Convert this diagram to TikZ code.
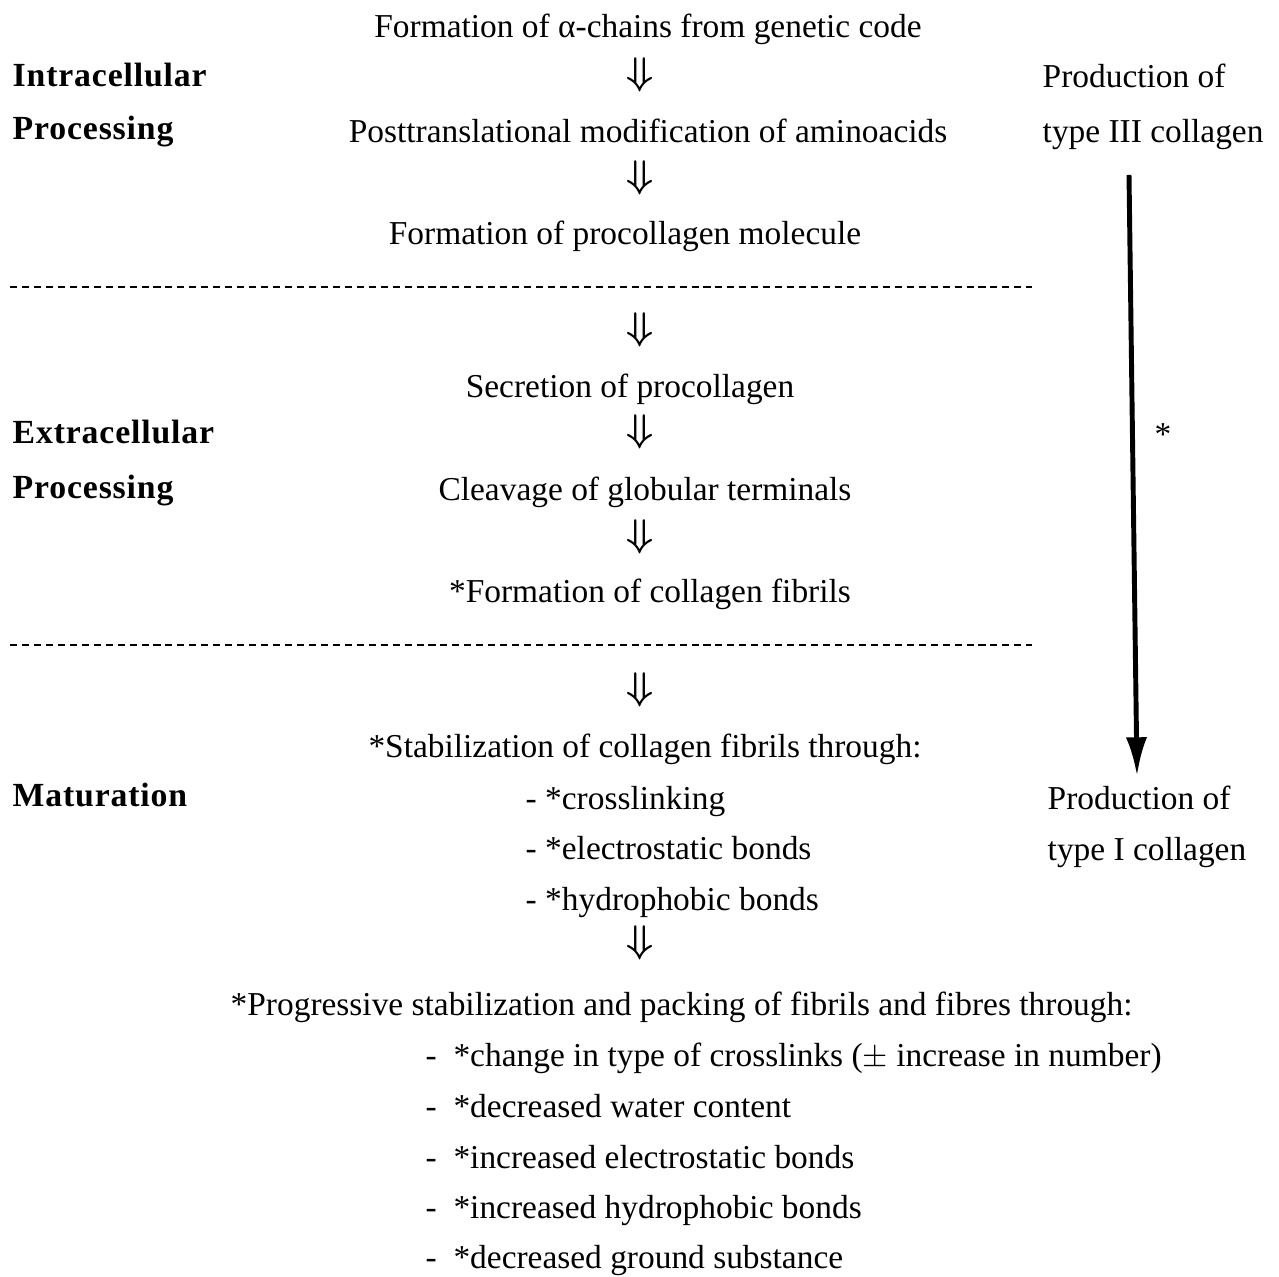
\documentclass[tikz,border=0pt]{standalone}
\usepackage{fontspec}
\usetikzlibrary{arrows.meta}
\setmainfont{Liberation Serif}
\newfontfamily\headfont[LetterSpace=2.5]{Liberation Serif}
\tikzset{
  txt/.style={anchor=base, inner sep=0pt, font=\fontsize{9.5}{11}\selectfont},
  head/.style={anchor=base west, inner sep=0pt, font=\fontsize{9.6}{11}\selectfont\headfont\bfseries},
  darr/.style={inner sep=0pt, font=\fontsize{11}{12}\selectfont\boldmath},
  sepline/.style={line width=0.5pt, dash pattern=on 2pt off 1.4pt}
}
\begin{document}
\begin{tikzpicture}[x=0.01cm, y=-0.01cm]
                    \useasboundingbox (0,0) rectangle (1279,1277);
                    % Intracellular steps
                    \node[txt] (alpha) at (648,38) {Formation of α-chains from genetic code};
                    \node[darr] (d1) at (640,75) {$\Downarrow$};
                    \node[txt] (post) at (648,143) {Posttranslational modification of aminoacids};
                    \node[darr] (d2) at (640,178) {$\Downarrow$};
                    \node[txt] (proc) at (625,245) {Formation of procollagen molecule};
                    \draw[sepline] (10,287) -- (1032,287);
                    % Extracellular steps
                    \node[darr] (d3) at (640,330) {$\Downarrow$};
                    \node[txt] (secr) at (630,398) {Secretion of procollagen};
                    \node[darr] (d4) at (640,432) {$\Downarrow$};
                    \node[txt] (cleav) at (645,501) {Cleavage of globular terminals};
                    \node[darr] (d5) at (640,537) {$\Downarrow$};
                    \node[txt] (fibr) at (650,603) {*Formation of collagen fibrils};
                    \draw[sepline] (10,645) -- (1032,645);
                    % Maturation steps
                    \node[darr] (d6) at (640,690) {$\Downarrow$};
                    \node[txt] (stab) at (645,758) {*Stabilization of collagen fibrils through:};
                    \node[txt, anchor=base west] (s1) at (525,810) {- *crosslinking};
                    \node[txt, anchor=base west] (s2) at (525,860) {- *electrostatic bonds};
                    \node[txt, anchor=base west] (s3) at (525,911) {- *hydrophobic bonds};
                    \node[darr] (d7) at (640,943) {$\Downarrow$};
                    \node[txt, anchor=base west] (prog) at (230,1016) {*Progressive stabilization and packing of fibrils and fibres through:};
                    \node[txt, anchor=base west] (p1) at (425,1067) {-\ \ *change in type of crosslinks ($\pm$ increase in number)};
                    \node[txt, anchor=base west] (p2) at (425,1117) {-\ \ *decreased water content};
                    \node[txt, anchor=base west] (p3) at (425,1168) {-\ \ *increased electrostatic bonds};
                    \node[txt, anchor=base west] (p4) at (425,1218) {-\ \ *increased hydrophobic bonds};
                    \node[txt, anchor=base west] (p5) at (425,1268) {-\ \ *decreased ground substance};
                    % Stage headings
                    \node[head] (intra) at (12,87) {Intracellular};
                    \node[head] (intrap) at (12,140) {Processing};
                    \node[head] (extra) at (12,444) {Extracellular};
                    \node[head] (extrap) at (12,499) {Processing};
                    \node[head] (matur) at (12,807) {Maturation};
                    % Collagen type shift
                    \node[txt, anchor=base west] (typeA) at (1042,88) {Production of};
                    \node[txt, anchor=base west] (typeB) at (1042,143) {type III collagen};
                    \node[txt, anchor=base west] (typeC) at (1047,810) {Production of};
                    \node[txt, anchor=base west] (typeD) at (1047,861) {type I collagen};
                    \coordinate (top) at (1129,175);
                    \coordinate (bot) at (1137,776);
                    \draw[-{Latex[length=11pt,width=6pt]}, line width=1.4pt] (top) -- (bot);
                    \node[txt] (star) at (1163,446) {*};
                \end{tikzpicture}
\end{document}
